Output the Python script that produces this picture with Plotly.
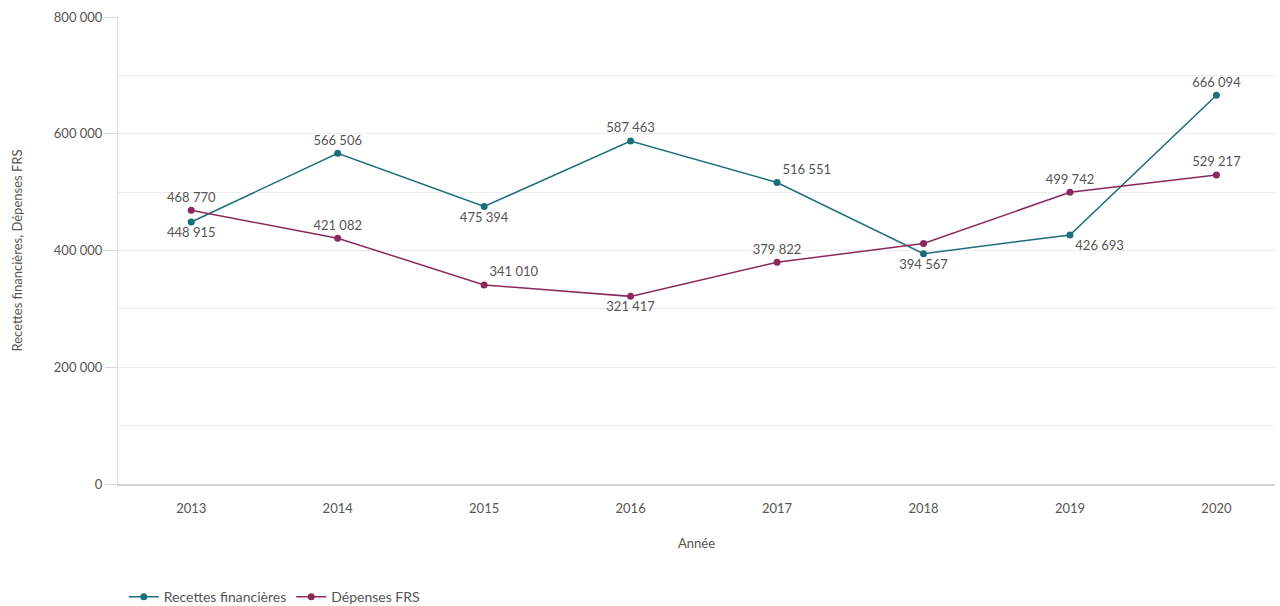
import plotly.graph_objects as go

years = ["2013", "2014", "2015", "2016", "2017", "2018", "2019", "2020"]
recettes = [448915, 566506, 475394, 587463, 516551, 394567, 426693, 666094]
depenses = [468770, 421082, 341010, 321417, 379822, 412000, 499742, 529217]
dep_show_label = [True, True, True, True, True, False, True, True]

rec_pos = ["bottom center", "top center", "bottom center", "top center",
           "top right", "bottom center", "bottom right", "top center"]
dep_pos = ["top center", "top center", "top right", "bottom center",
           "top center", "top center", "top center", "top center"]

def fmt(v):
    return f"{v:,}".replace(",", " ")

rec_text = [fmt(v) for v in recettes]
dep_text = [fmt(v) if s else "" for v, s in zip(depenses, dep_show_label)]

teal = "#1b6e7c"
plum = "#8a2a5c"
font = "Lato"
gray = "#555"

fig = go.Figure()
fig.add_trace(go.Scatter(
    x=years, y=recettes, name="Recettes financières",
    mode="lines+markers+text", text=rec_text, textposition=rec_pos,
    textfont=dict(family=font, size=13, color=gray),
    line=dict(color=teal, width=1.5), marker=dict(color=teal, size=7),
))
fig.add_trace(go.Scatter(
    x=years, y=depenses, name="Dépenses FRS",
    mode="lines+markers+text", text=dep_text, textposition=dep_pos,
    textfont=dict(family=font, size=13, color=gray),
    line=dict(color=plum, width=1.5), marker=dict(color=plum, size=7),
))

fig.update_layout(
    width=1280, height=606,
    margin=dict(l=118, r=5, t=17, b=122, autoexpand=False),
    paper_bgcolor="white", plot_bgcolor="white",
    separators=", ",
    font=dict(family=font, size=13, color=gray),
    showlegend=True,
    legend=dict(orientation="h", x=0.005, xanchor="left",
                y=-0.208, yanchor="top",
                itemwidth=30,
                font=dict(family=font, size=14, color=gray)),
    xaxis=dict(
        type="category", range=[-0.5, 7.4],
        title=dict(text="Année", font=dict(family=font, size=13, color=gray), standoff=24),
        showgrid=False, showline=True, linecolor="#cfcfcf", linewidth=2,
        ticks="", ticklabelstandoff=11,
        tickfont=dict(family=font, size=13, color=gray),
    ),
    yaxis=dict(
        range=[0, 800000], dtick=200000, tickformat=",d",
        title=dict(text="Recettes financières, Dépenses FRS",
                   font=dict(family=font, size=13, color=gray), standoff=28),
        showgrid=True, gridcolor="#ececec", gridwidth=1,
        minor=dict(dtick=100000, showgrid=True, gridcolor="#ececec", gridwidth=1),
        showline=True, linecolor="#e0e0e0", linewidth=1,
        ticks="outside", ticklen=12, tickcolor="#d8d8d8",
        zeroline=False,
        tickfont=dict(family=font, size=13, color=gray),
    ),
)

fig.write_html("out.html")
